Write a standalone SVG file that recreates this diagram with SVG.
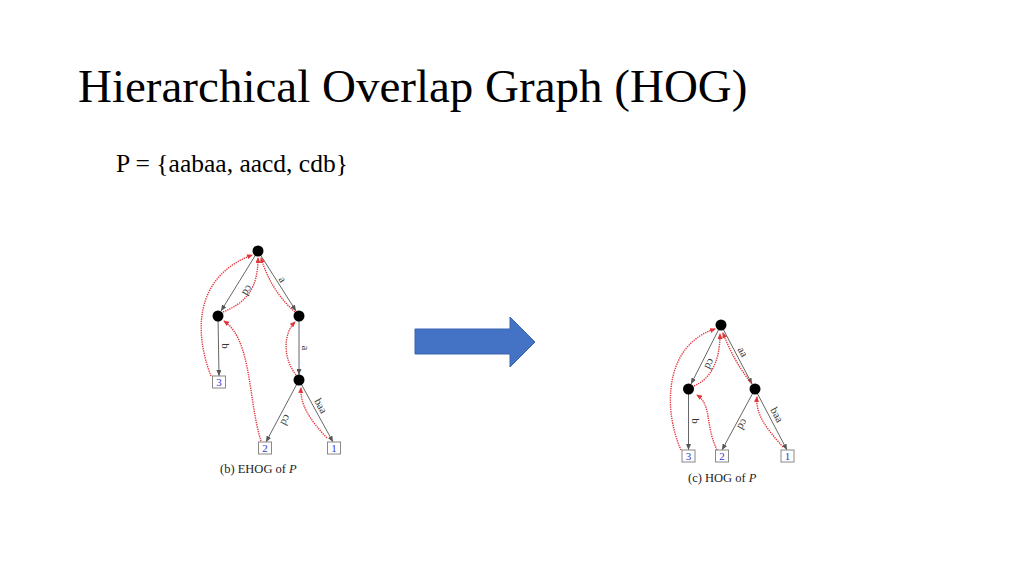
<svg xmlns="http://www.w3.org/2000/svg" width="1024" height="576" viewBox="0 0 1024 576">
<style>
.title{font-family:"Liberation Serif","Times New Roman",serif;font-size:47px;fill:#000}
.sub{font-family:"Liberation Serif","Times New Roman",serif;font-size:25.5px;fill:#000}
.cap{font-family:"Liberation Serif","Times New Roman",serif;font-size:12.5px;fill:#222}
.lbl{font-family:"Liberation Serif","Times New Roman",serif;font-size:11px;fill:#333;text-anchor:middle}
.num{font-family:"Liberation Serif","Times New Roman",serif;font-size:11px;fill:#3434cc;text-anchor:middle}
.node{fill:#000}
.box{fill:#fff;stroke:#888;stroke-width:1}
.edge{fill:none;stroke:#666;stroke-width:1;marker-end:url(#ga)}
.red{fill:none;stroke:#e3343a;stroke-width:1.4;stroke-dasharray:1.3 1;marker-end:url(#ra)}
</style>
<defs>
<marker id="ga" markerUnits="userSpaceOnUse" markerWidth="6" markerHeight="5" refX="6" refY="2.5" orient="auto"><path d="M0,0 L6,2.5 L0,5 z" fill="#555"/></marker>
<marker id="ra" markerUnits="userSpaceOnUse" markerWidth="6" markerHeight="5" refX="5" refY="2.5" orient="auto"><path d="M0,0 L6,2.5 L0,5 z" fill="#e3343a"/></marker>
</defs>
<rect width="1024" height="576" fill="#fff"/>
<text class="title" x="78" y="102">Hierarchical Overlap Graph (HOG)</text>
<text class="sub" x="116" y="172">P = {aabaa, aacd, cdb}</text>

<!-- Left: EHOG -->
<g id="ehog-connectors">
<line class="edge" x1="258" y1="251" x2="221" y2="311"/>
<line class="edge" x1="258" y1="251" x2="296" y2="311"/>
<line class="edge" x1="218" y1="316" x2="219" y2="376"/>
<line class="edge" x1="299" y1="316" x2="299" y2="375"/>
<line class="edge" x1="299" y1="380" x2="266" y2="442"/>
<line class="edge" x1="299" y1="380" x2="333" y2="442"/>
<path class="red" d="M211,376 C193,330 196,276 252,255"/>
<path class="red" d="M223,312 C245,303 258,290 258,258"/>
<path class="red" d="M261,441 C248,400 252,340 224,321"/>
<path class="red" d="M295,312 Q271,291 261,258"/>
<path class="red" d="M296,375 C284,360 282,335 295,322"/>
<path class="red" d="M327,438 C310,420 300,405 301,388"/>
<g transform="translate(242,287) rotate(121.6)"><text class="lbl" y="-3">cd</text></g>
<g transform="translate(277,283) rotate(57.8)"><text class="lbl" y="-3">a</text></g>
<g transform="translate(219,346) rotate(90)"><text class="lbl" y="-3">b</text></g>
<g transform="translate(299,348) rotate(90)"><text class="lbl" y="-3">a</text></g>
<g transform="translate(280,417) rotate(118)"><text class="lbl" y="-3">cd</text></g>
<g transform="translate(315,409) rotate(61)"><text class="lbl" y="-3">baa</text></g>
</g>
<g id="e-root"><circle class="node" cx="258" cy="251" r="5.5"/></g>
<g id="e-cd"><circle class="node" cx="218" cy="316" r="5.5"/></g>
<g id="e-a"><circle class="node" cx="299" cy="316" r="5.5"/></g>
<g id="e-aa"><circle class="node" cx="299" cy="380" r="5.5"/></g>
<g id="e-3"><rect class="box" x="212.5" y="376" width="13" height="12"/><text class="num" x="219" y="386">3</text></g>
<g id="e-2"><rect class="box" x="258.5" y="442" width="13" height="12"/><text class="num" x="265" y="452">2</text></g>
<g id="e-1"><rect class="box" x="327.5" y="442" width="13" height="12"/><text class="num" x="334" y="452">1</text></g>
<text class="cap" x="220" y="473">(b) EHOG of <tspan font-style="italic">P</tspan></text>

<!-- Arrow -->
<g id="big-arrow"><path d="M415,329 L510,329 L510,317 L535,342 L510,367 L510,354 L415,354 z" fill="#4472c4" stroke="#3a64b0" stroke-width="1"/></g>

<!-- Right: HOG -->
<g id="hog-connectors">
<line class="edge" x1="721" y1="325" x2="691" y2="384"/>
<line class="edge" x1="721" y1="325" x2="752" y2="384"/>
<line class="edge" x1="688.5" y1="389" x2="688.5" y2="450"/>
<line class="edge" x1="755" y1="389" x2="722" y2="450"/>
<line class="edge" x1="755" y1="389" x2="787" y2="450"/>
<path class="red" d="M681,450 C663,410 664,345 715,329"/>
<path class="red" d="M694,386 C712,378 720,360 720,334"/>
<path class="red" d="M717,450 C705,425 712,405 697,395"/>
<path class="red" d="M752,384 Q734,362 723,333"/>
<path class="red" d="M783,447 C768,430 755,415 757,397"/>
<g transform="translate(704,361) rotate(117.6)"><text class="lbl" y="-3">cd</text></g>
<g transform="translate(737,355) rotate(61.8)"><text class="lbl" y="-3">aa</text></g>
<g transform="translate(688.5,421) rotate(90)"><text class="lbl" y="-3">b</text></g>
<g transform="translate(737,421) rotate(120)"><text class="lbl" y="-3">cd</text></g>
<g transform="translate(771,418) rotate(61.6)"><text class="lbl" y="-3">baa</text></g>
</g>
<g id="h-root"><circle class="node" cx="721" cy="325" r="5.5"/></g>
<g id="h-cd"><circle class="node" cx="688.5" cy="389" r="5.5"/></g>
<g id="h-aa"><circle class="node" cx="755" cy="389" r="5.5"/></g>
<g id="h-3"><rect class="box" x="682" y="450" width="13" height="12"/><text class="num" x="688.5" y="460">3</text></g>
<g id="h-2"><rect class="box" x="715.5" y="450" width="13" height="12"/><text class="num" x="722" y="460">2</text></g>
<g id="h-1"><rect class="box" x="781" y="450" width="13" height="12"/><text class="num" x="787.5" y="460">1</text></g>
<text class="cap" x="688" y="482" font-size="13.5">(c) HOG of <tspan font-style="italic">P</tspan></text>
</svg>
